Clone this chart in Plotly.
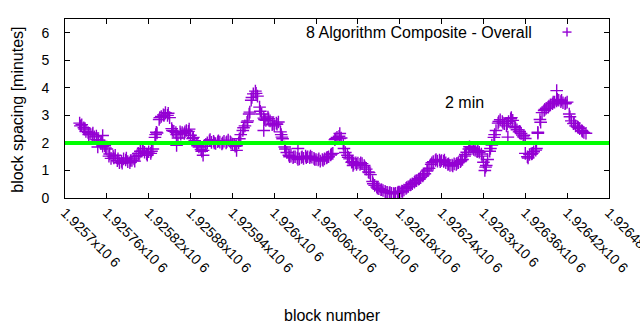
import plotly.graph_objects as go

# ---- data ----
block_start = 1925721
block_step = 3
spacing = [
    2.72, 2.66, 2.55, 2.42, 2.38, 2.33, 2.30, 2.22, 2.25, 2.10,
    1.98, 1.88, 1.90, 1.78, 1.52, 1.44, 1.52, 1.55, 1.35, 1.28,
    1.33, 1.42, 1.38, 1.32, 1.28, 1.36, 1.42, 1.50, 1.62, 1.70,
    1.74, 1.66, 1.60, 1.68, 1.62, 1.78, 2.20, 2.36, 2.85, 2.96,
    3.02, 3.10, 3.00, 2.92, 2.52, 2.42, 2.38, 2.18, 2.40, 2.38,
    2.34, 2.45, 2.42, 2.28, 2.16, 2.08, 1.95, 1.85, 1.76, 1.73,
    1.88, 2.00, 2.08, 2.02, 2.06, 1.98, 2.04, 2.03, 1.96, 2.06,
    2.00, 2.10, 2.04, 1.96, 1.93, 1.90, 2.00, 2.30, 2.45, 2.62,
    2.75, 3.05, 3.55, 3.78, 3.88, 3.70, 3.30, 3.05, 2.90, 2.82,
    2.94, 2.80, 2.66, 2.62, 2.72, 2.76, 2.40, 2.15, 1.85, 1.65,
    1.55, 1.52, 1.46, 1.50, 1.45, 1.42, 1.47, 1.44, 1.52, 1.50,
    1.46, 1.48, 1.44, 1.40, 1.38, 1.34, 1.40, 1.42, 1.45, 1.50,
    1.56, 1.62, 2.12, 2.20, 2.24, 2.18, 1.95, 1.65, 1.55, 1.42,
    1.30, 1.24, 1.28, 1.27, 1.22, 1.25, 1.18, 1.05, 0.95, 0.85,
    0.60, 0.46, 0.40, 0.34, 0.30, 0.27, 0.24, 0.21, 0.19, 0.17,
    0.16, 0.17, 0.19, 0.22, 0.25, 0.29, 0.35, 0.41, 0.47, 0.52,
    0.57, 0.63, 0.68, 0.74, 0.80, 0.88, 0.98, 1.08, 1.22, 1.32,
    1.36, 1.34, 1.38, 1.36, 1.33, 1.28, 1.22, 1.18, 1.20, 1.24,
    1.22, 1.28, 1.32, 1.40, 1.52, 1.66, 1.78, 1.84, 1.80, 1.74,
    1.68, 1.66, 1.60, 1.30, 1.12, 1.40, 1.70, 1.92, 2.20, 2.45,
    2.72, 2.84, 2.78, 2.70, 2.62, 2.78, 2.88, 2.82, 2.60, 2.48,
    2.40, 2.34, 2.22, 1.62, 1.50, 1.58, 1.60, 1.68, 1.74, 2.35,
    2.85, 3.10, 3.18, 3.26, 3.30, 3.38, 3.42, 3.48, 3.52, 3.55,
    3.50, 3.46, 3.42, 3.48, 3.05, 2.80, 2.70, 2.62, 2.58, 2.52,
    2.45, 2.38, 2.35,
]
# interleaved blocks (every 6th block, offset)
block_start2 = 1925722
block_step2 = 6
spacing2 = [
    2.62, 2.50, 2.30, 2.36, 2.12, 2.05, 1.82, 1.60, 1.45, 1.42,
    1.26, 1.45, 1.36, 1.34, 1.55, 1.80, 1.55, 1.70, 2.30, 2.92,
    3.00, 3.08, 2.45, 2.30, 2.32, 2.40, 2.50, 2.20, 1.90, 1.70,
    1.95, 2.12, 2.00, 2.08, 2.00, 2.04, 2.00, 1.88, 2.15, 2.55,
    2.80, 3.65, 3.80, 3.15, 2.85, 2.88, 2.70, 2.68, 2.30, 1.78,
    1.50, 1.50, 1.40, 1.50, 1.46, 1.52, 1.40, 1.42, 1.36, 1.48,
    1.60, 2.15, 2.16, 1.80, 1.48, 1.32, 1.22, 1.28, 1.12, 0.92,
    0.52, 0.36, 0.30, 0.21, 0.20, 0.15, 0.22, 0.24, 0.38, 0.48,
    0.62, 0.70, 0.84, 1.02, 1.28, 1.40, 1.32, 1.38, 1.24, 1.16,
    1.26, 1.36, 1.58, 1.86, 1.76, 1.72, 1.52, 1.18, 1.80, 2.30,
    2.78, 2.72, 2.70, 2.92, 2.55, 2.42, 2.28, 1.45, 1.62, 1.80,
    2.75, 3.22, 3.34, 3.48, 3.58, 3.55, 3.45, 2.95, 2.72, 2.56,
    2.42,
]
# scattered individual points
extra_blocks = [1925754, 1925747, 1925831, 1925860, 1925898, 1925946, 1925965,
                1925985, 1926011, 1926034, 1926094, 1926113, 1926405, 1926378,
                1926360, 1926302, 1926335]
extra_spacing = [2.27, 1.85, 2.39, 1.91, 1.55, 1.73, 3.12,
                 2.45, 2.21, 1.80, 2.34, 1.18, 3.90, 2.39,
                 2.16, 1.00, 2.21]

blocks = [block_start + block_step * i for i in range(len(spacing))]
blocks2 = [block_start2 + block_step2 * i for i in range(len(spacing2))]

tick_vals = [1925700 + 60 * k for k in range(14)]
tick_labels = ["1.9257x10 6", "1.92576x10 6", "1.92582x10 6", "1.92588x10 6",
               "1.92594x10 6", "1.926x10 6", "1.92606x10 6", "1.92612x10 6",
               "1.92618x10 6", "1.92624x10 6", "1.9263x10 6", "1.92636x10 6",
               "1.92642x10 6", "1.92648x10 6"]
target_minutes = 2
series_name = "8 Algorithm Composite - Overall"

PURPLE = "#9400d3"
FONT = "Liberation Sans, Arial, sans-serif"
FS = 16
TFS = 14

fig = go.Figure()
fig.add_trace(go.Scatter(
    x=blocks + blocks2 + extra_blocks, y=spacing + spacing2 + extra_spacing,
    mode="markers",
    marker=dict(symbol="cross-thin", size=9, line=dict(color=PURPLE, width=1.4)),
    showlegend=False, hoverinfo="skip"))

fig.add_shape(type="line", xref="paper", x0=0, x1=1, yref="y",
              y0=target_minutes, y1=target_minutes,
              line=dict(color="#00ff00", width=4), layer="above")

axis_common = dict(showline=True, linecolor="black", linewidth=1, mirror="allticks",
                   ticks="inside", ticklen=5, tickcolor="black", showgrid=False,
                   zeroline=False, automargin=False,
                   tickfont=dict(family=FONT, size=TFS, color="black"))

fig.update_xaxes(range=[1925700, 1926480.01], tickvals=tick_vals, ticktext=tick_labels,
                 tickangle=45, ticklabeloverflow="allow", **axis_common)
fig.update_yaxes(range=[0, 6.5], tickvals=[0, 1, 2, 3, 4, 5, 6],
                 ticklabelstandoff=12, **axis_common)

# "2 min" label
fig.add_annotation(x=1926273, y=3.47, xref="x", yref="y", text="2 min",
                   showarrow=False, font=dict(family=FONT, size=FS, color="black"))
# key (gnuplot style: text then symbol)
fig.add_annotation(x=0.862, y=0.927, xref="paper", yref="paper", text=series_name,
                   xanchor="right", yanchor="middle", showarrow=False,
                   font=dict(family=FONT, size=FS, color="black"))
kx, ky = 0.9228, 0.927
fig.add_shape(type="line", xref="paper", yref="paper", x0=kx - 0.0083, x1=kx + 0.0083,
              y0=ky, y1=ky, line=dict(color=PURPLE, width=1.4))
fig.add_shape(type="line", xref="paper", yref="paper", x0=kx, x1=kx,
              y0=ky - 0.025, y1=ky + 0.025, line=dict(color=PURPLE, width=1.4))

# axis titles
fig.add_annotation(x=0.4926, y=-0.658, xref="paper", yref="paper", text="block number",
                   showarrow=False, yanchor="middle",
                   font=dict(family=FONT, size=FS, color="black"))
fig.add_annotation(x=-0.0864, y=0.493, xref="paper", yref="paper",
                   text="block spacing [minutes]", textangle=-90, showarrow=False,
                   xanchor="center", yanchor="middle",
                   font=dict(family=FONT, size=FS, color="black"))

fig.update_layout(width=640, height=330, margin=dict(l=65, r=31, t=19, b=132),
                  plot_bgcolor="white", paper_bgcolor="white", showlegend=False)

fig.write_html("out.html")
